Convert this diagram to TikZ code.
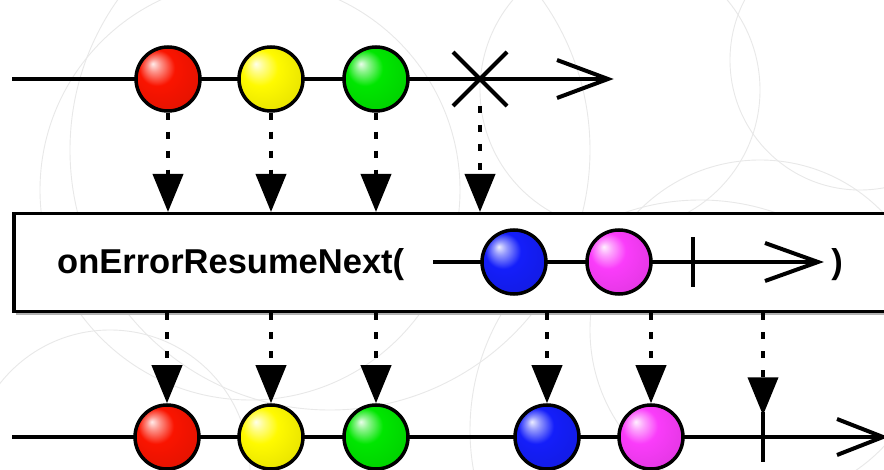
\documentclass[tikz,border=0pt]{standalone}
\usepackage{fontspec}
\setmainfont{Liberation Sans}
\usetikzlibrary{arrows.meta,shapes.misc}
\definecolor{cred}{RGB}{250,20,0}
\definecolor{cyellow}{RGB}{255,250,0}
\definecolor{cgreen}{RGB}{0,230,0}
\definecolor{cblue}{RGB}{20,30,250}
\definecolor{cpink}{RGB}{250,60,250}
\colorlet{ballc}{red}
\pgfdeclareradialshading[ballc]{shinyball}{\pgfpoint{-12bp}{12bp}}{%
  color(0bp)=(ballc!8!white); color(5bp)=(ballc!45!white); color(14bp)=(ballc);
  color(30bp)=(ballc!92!black); color(50bp)=(ballc!70!black)}
\begin{document}
\begin{tikzpicture}[x=1pt,y=-1pt,
  ball/.style={circle,draw=black,line width=3.5pt,minimum size=64pt,inner sep=0pt,
               /utils/exec={\colorlet{ballc}{#1}},shading=shinyball},
  tline/.style={line width=4pt},
  chev/.style={line width=4pt,line join=miter},
  dasharr/.style={line width=4pt,dash pattern=on 7pt off 12pt,-{Triangle[length=38pt,width=30pt]}},
  tick/.style={inner sep=0pt,minimum width=0pt,minimum height=#1},
  bgc/.style={draw=black!9,line width=0.9pt}
]
\useasboundingbox[fill=white] (0,0) rectangle (884,470);
% faint background circles
\draw[bgc] (250,190) circle[radius=210];
\draw[bgc] (330,150) circle[radius=260];
\draw[bgc] (620,90) circle[radius=140];
\draw[bgc] (760,330) circle[radius=170];
\draw[bgc] (700,430) circle[radius=230];
\draw[bgc] (860,60) circle[radius=130];
\draw[bgc] (110,470) circle[radius=140];

% top timeline
\coordinate (ts) at (12,79);
\coordinate (te) at (608,79);
\draw[tline] (ts) -- (te);
\draw[chev] (557,60) -- (te) -- (557,98);
\node[ball=cred] (r1) at (168,79) {};
\node[ball=cyellow] (y1) at (271,79) {};
\node[ball=cgreen] (g1) at (376,79) {};
\node[cross out,draw,line width=4pt,minimum size=50pt,inner sep=0pt] (err) at (480,79) {};

% operator box
\fill[black!30] (16,216) rectangle (900,315);
\node[draw,line width=3.5pt,fill=white,rectangle,anchor=north west,inner sep=0pt,
      minimum width=890pt,minimum height=98pt] (box) at (12,212) {};
\node[anchor=base west,inner sep=0pt,font=\bfseries\fontsize{34.5}{40}\selectfont] (lbl) at (57,274) {onErrorResumeNext(};
\node[anchor=base,inner sep=0pt,font=\bfseries\fontsize{34.5}{40}\selectfont] (rp) at (837,274) {)};
\coordinate (is) at (433,262);
\coordinate (ie) at (818,262);
\draw[tline] (is) -- (ie);
\draw[chev] (765,243) -- (ie) -- (765,281);
\node[ball=cblue] (b0) at (514,262) {};
\node[ball=cpink] (p0) at (619,262) {};
\node[tick=49pt] (t0) at (693,262) {};
\draw[tline] (t0.north) -- (t0.south);

% bottom timeline
\coordinate (bs) at (12,437);
\coordinate (be) at (883,437);
\draw[tline] (bs) -- (be);
\draw[chev] (837,419) -- (be) -- (837,455);
\node[ball=cred] (r2) at (167,437) {};
\node[ball=cyellow] (y2) at (271,437) {};
\node[ball=cgreen] (g2) at (376,437) {};
\node[ball=cblue] (b2) at (547,437) {};
\node[ball=cpink] (p2) at (651,437) {};
\node[tick=49pt] (t2) at (763,437) {};
\draw[tline] (t2.north) -- (t2.south);

% top arrows into box
\foreach \n in {r1,y1,g1}
  \draw[dasharr] (\n.south) -- (\n.south |- box.north);
\draw[dasharr] (err.south) -- (err.south |- box.north);

% bottom arrows out of box
\foreach \n in {r2,y2,g2,b2,p2}
  \draw[dasharr] (box.south -| \n.north) -- (\n.north);
\draw[dasharr] (box.south -| t2.north) -- ([yshift=-3pt]t2.north);
\end{tikzpicture}
\end{document}
